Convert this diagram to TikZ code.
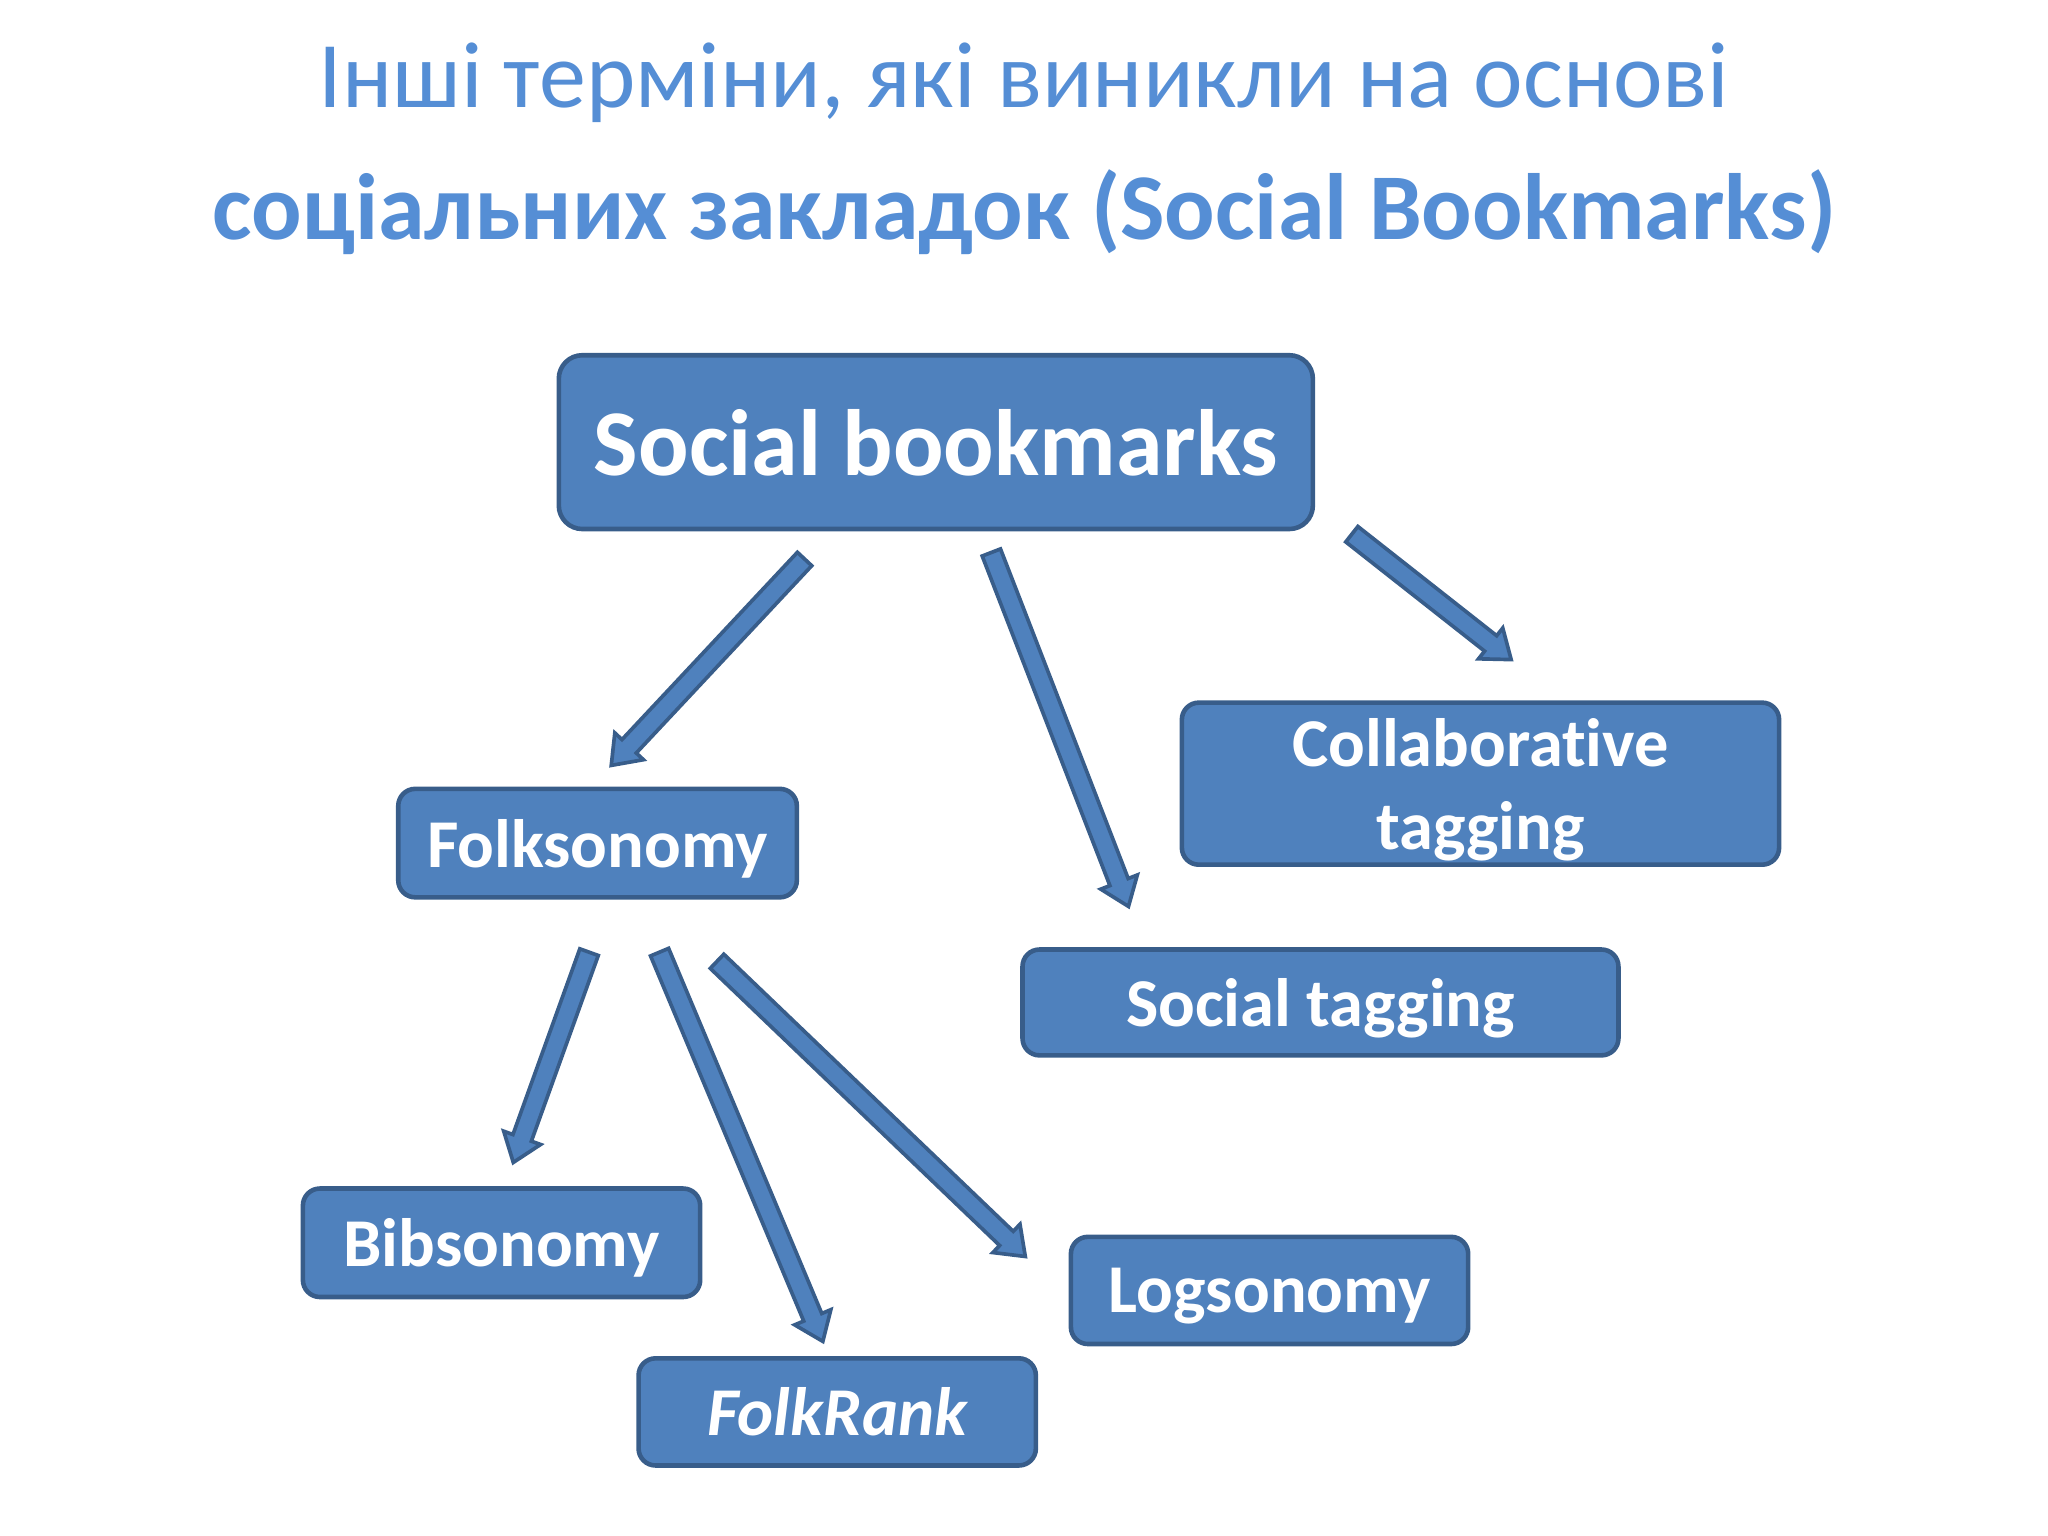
\documentclass[tikz,border=0pt]{standalone}
\usepackage{fontspec}
\setmainfont{Carlito}[Ligatures=NoCommon]
\usetikzlibrary{calc}

\definecolor{boxfill}{HTML}{4F81BD}
\definecolor{boxline}{HTML}{385D8A}
\definecolor{titleblue}{HTML}{558ED5}

% block arrow from #1 (tail) to #2 (tip)
\newcommand{\blockarrow}[2]{%
  \path ($(#2)!0.2cm!(#1)$) coordinate (neck);
  \draw[blockarrow] ($(#1)!0.075cm!90:(#2)$)
    -- ($(neck)!0.075cm!-90:(#1)$)
    -- ($(neck)!0.15cm!-90:(#1)$)
    -- (#2)
    -- ($(neck)!0.15cm!90:(#1)$)
    -- ($(neck)!0.075cm!90:(#1)$)
    -- ($(#1)!0.075cm!-90:(#2)$) -- cycle;}

\begin{document}
\begin{tikzpicture}[x=0.01cm,y=-0.01cm,
    box/.style={draw=boxline, fill=boxfill, line width=1pt,
      rounded corners=0.13cm, text=white, align=center, inner sep=0pt,
      text depth=0pt, font=\bfseries\fontsize{14.9}{18}\selectfont},
    blockarrow/.style={draw=boxline, fill=boxfill, line width=0.8pt,
      line join=miter},
    titletext/.style={text=titleblue, anchor=base, inner sep=0pt}]
        \useasboundingbox (0,0) rectangle (1568,1176);
        % title
        \node[titletext, font=\fontsize{20.45}{24}\selectfont] (title1) at (784,82)
          {Інші терміни, які виникли на основі};
        \node[titletext, font=\bfseries\fontsize{20.5}{24}\selectfont] (title2) at (784,183)
          {соціальних закладок (Social Bookmarks)};
        % boxes
        \node[box, minimum width=5.77cm, minimum height=1.33cm,
          rounded corners=0.18cm, font=\bfseries\fontsize{20.5}{24}\selectfont]
          (sb) at (716.5,338.5) {Social bookmarks};
        \node[box, minimum width=3.05cm, minimum height=0.83cm] (folk) at (457.5,645.5) {Folksonomy};
        \node[box, minimum width=4.57cm, minimum height=1.24cm] (collab) at (1133.5,600)
          {Collaborative\\tagging};
        \node[box, minimum width=4.56cm, minimum height=0.81cm] (soctag) at (1011,767.5) {Social tagging};
        \node[box, minimum width=3.04cm, minimum height=0.83cm] (bib) at (384,951.5) {Bibsonomy};
        \node[box, minimum width=3.04cm, minimum height=0.82cm,
          font=\bfseries\itshape\fontsize{14.9}{18}\selectfont] (frank) at (641,1081) {FolkRank};
        \node[box, minimum width=3.04cm, minimum height=0.82cm] (logs) at (972,988) {Logsonomy};
        % arrow ends
        \coordinate (sb-folk) at (616,428);
        \coordinate (folk-in) at (468,586);
        \coordinate (sb-soctag) at (759,423);
        \coordinate (soctag-in) at (864,694);
        \coordinate (sb-collab) at (1035,409);
        \coordinate (collab-in) at (1157,505);
        \coordinate (folk-bib) at (451,729);
        \coordinate (bib-in) at (393,890);
        \coordinate (folk-frank) at (505,729);
        \coordinate (frank-in) at (630,1027);
        \coordinate (folk-logs) at (549,736);
        \coordinate (logs-in) at (785,962);
        % arrows
        \blockarrow{sb-folk}{folk-in}
        \blockarrow{sb-soctag}{soctag-in}
        \blockarrow{sb-collab}{collab-in}
        \blockarrow{folk-bib}{bib-in}
        \blockarrow{folk-frank}{frank-in}
        \blockarrow{folk-logs}{logs-in}
      \end{tikzpicture}
\end{document}
